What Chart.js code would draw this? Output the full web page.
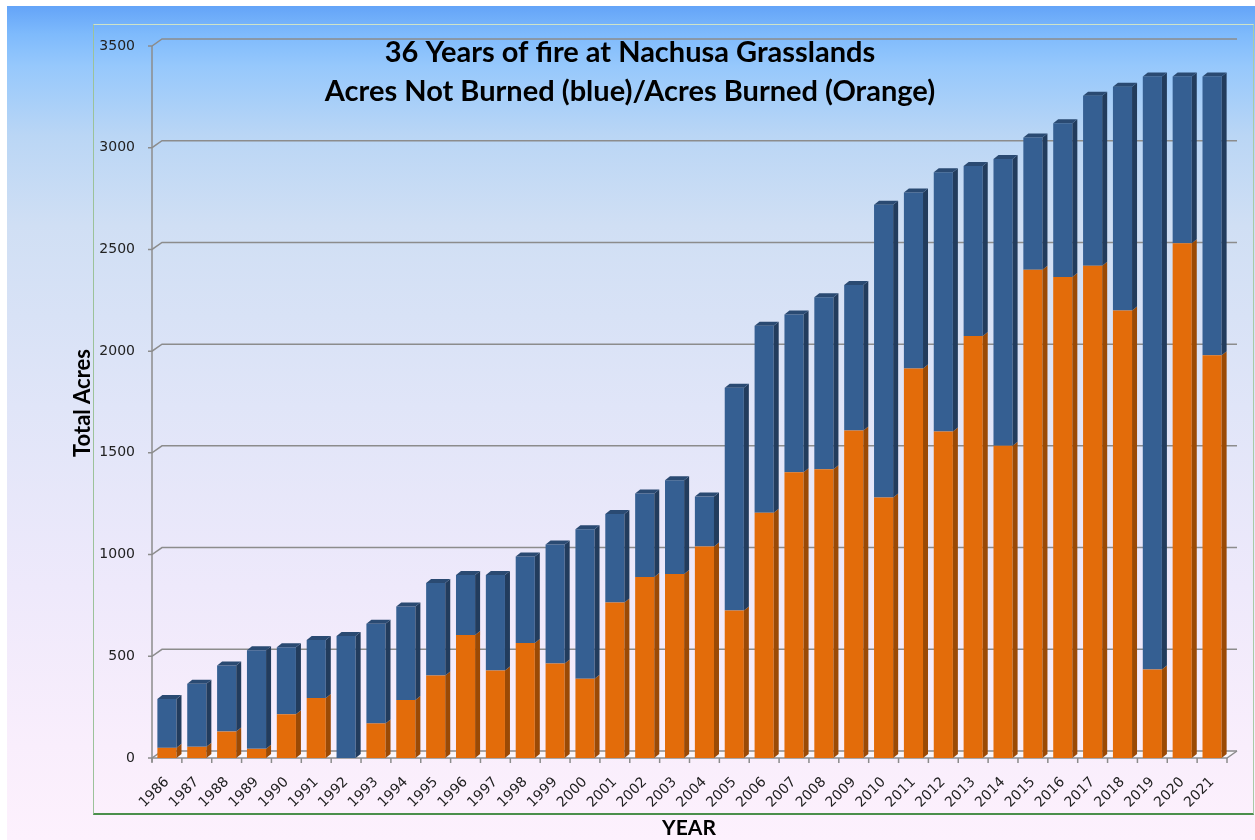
<!DOCTYPE html>
<html>
<head>
<meta charset="utf-8">
<script src="https://cdn.jsdelivr.net/npm/chart.js@4.4.1/dist/chart.umd.min.js"></script>
<style>
  html, body { margin: 0; padding: 0; background: #fff; }
  #wrap { position: relative; width: 1255px; height: 840px; overflow: hidden; }
  #bg {
    position: absolute; left: 7px; top: 6px; right: 0; bottom: 0;
    background: linear-gradient(to bottom, #64a4f8 0px, #7ebafc 28px, #96c8fc 60px, #bad6f5 130px,
      #d0dff4 220px, #e0e5f8 400px, #eee9fb 580px, #f9eefc 740px, #fdf1fd 834px);
  }
  #frame {
    position: absolute; left: 93px; top: 24px; width: 1159px; height: 788px;
    border: 1px solid #cfe3c8; border-left-color: #9cc29a; border-right-color: #a9cba6;
    border-bottom: 2px solid #4b8f4b;
  }
  canvas { position: absolute; left: 0; top: 0; }
</style>
</head>
<body>
<div id="wrap">
  <div id="bg"></div>
  <div id="frame"></div>
  <canvas id="fireChart" width="1255" height="840"></canvas>
</div>
<script>
// data
const years = ['1986','1987','1988','1989','1990','1991','1992','1993','1994','1995','1996','1997',
  '1998','1999','2000','2001','2002','2003','2004','2005','2006','2007','2008','2009',
  '2010','2011','2012','2013','2014','2015','2016','2017','2018','2019','2020','2021'];
const acresBurned = [50, 55, 130, 45, 215, 295, 0, 170, 285, 405, 605, 430,
  565, 465, 390, 765, 890, 905, 1040, 725, 1205, 1405, 1420, 1610,
  1280, 1915, 1605, 2075, 1535, 2400, 2365, 2420, 2200, 435, 2530, 1980];
const acresNotBurned = [240, 310, 325, 485, 330, 285, 600, 490, 460, 455, 295, 470,
  425, 585, 735, 435, 410, 460, 245, 1095, 920, 775, 845, 715,
  1440, 865, 1275, 835, 1410, 650, 755, 835, 1100, 2915, 820, 1370];
const yTicks = [0, 500, 1000, 1500, 2000, 2500, 3000, 3500];

const DX = 5, DY = 4;          // bar depth
const WX = 10, WY = 7;         // back wall offset

const wallPlugin = {
  id: 'wall',
  beforeDatasetsDraw(chart) {
    const { ctx, chartArea: a, scales: { x, y } } = chart;
    ctx.save();
    // floor
    ctx.fillStyle = 'rgba(250,246,252,0.9)';
    ctx.beginPath();
    ctx.moveTo(a.left, a.bottom);
    ctx.lineTo(a.left + WX, a.bottom - WY);
    ctx.lineTo(a.right + WX, a.bottom - WY);
    ctx.lineTo(a.right, a.bottom);
    ctx.closePath();
    ctx.fill();

    ctx.strokeStyle = '#8c8c8c';
    ctx.lineWidth = 1.5;
    yTicks.forEach(v => {
      const py = y.getPixelForValue(v);
      ctx.beginPath();
      ctx.moveTo(a.left - 4, py);
      ctx.lineTo(a.left, py);
      ctx.lineTo(a.left + WX, py - WY);
      ctx.lineTo(a.right + WX, py - WY);
      ctx.stroke();
    });
    // front floor edge + right edge
    ctx.beginPath();
    ctx.moveTo(a.left, a.bottom);
    ctx.lineTo(a.right, a.bottom);
    ctx.lineTo(a.right + WX, a.bottom - WY);
    ctx.stroke();
    // y axis line
    ctx.beginPath();
    ctx.moveTo(a.left, y.getPixelForValue(3500));
    ctx.lineTo(a.left, a.bottom + 4);
    ctx.stroke();
    // category ticks
    const step = (a.right - a.left) / years.length;
    for (let i = 0; i <= years.length; i++) {
      const px = a.left + i * step;
      ctx.beginPath();
      ctx.moveTo(px, a.bottom);
      ctx.lineTo(px, a.bottom + 5);
      ctx.stroke();
    }
    ctx.restore();
  },
  afterDatasetsDraw(chart) {
    const { ctx } = chart;
    const sides = ['#9b4a05', '#223c5d'];
    ctx.save();
    chart.data.datasets.forEach((ds, di) => {
      const meta = chart.getDatasetMeta(di);
      meta.data.forEach((bar) => {
        const p = bar.getProps(['x', 'y', 'base', 'width'], true);
        const xl = p.x - p.width / 2, xr = p.x + p.width / 2;
        const top = Math.min(p.y, p.base), bot = Math.max(p.y, p.base);
        if (bot - top < 0.5) return;
        ctx.fillStyle = sides[di];
        ctx.beginPath();
        ctx.moveTo(xr, top);
        ctx.lineTo(xr + DX, top - DY);
        ctx.lineTo(xr + DX, bot - DY);
        ctx.lineTo(xr, bot);
        ctx.closePath();
        ctx.fill();
        if (di === 1) {
          ctx.fillStyle = '#2a4a72';
          ctx.beginPath();
          ctx.moveTo(xl, top);
          ctx.lineTo(xl + DX, top - DY);
          ctx.lineTo(xr + DX, top - DY);
          ctx.lineTo(xr, top);
          ctx.closePath();
          ctx.fill();
        }
      });
    });
    ctx.restore();
  },
  afterDraw(chart) {
    const { ctx } = chart;
    ctx.save();
    ctx.fillStyle = '#000';
    ctx.textAlign = 'center';
    ctx.textBaseline = 'alphabetic';
    ctx.font = 'bold 29px Lato';
    ctx.fillText('36 Years of fire at Nachusa Grasslands', 630, 62);
    ctx.fillText('Acres Not Burned (blue)/Acres Burned (Orange)', 630, 101);
    ctx.font = 'bold 21px Lato';
    ctx.textBaseline = 'middle';
    ctx.fillText('YEAR', 689, 828);
    ctx.font = 'bold 22px Lato';
    ctx.translate(83, 403);
    ctx.rotate(-Math.PI / 2);
    ctx.fillText('Total Acres', 0, 0);
    ctx.restore();
  }
};

new Chart(document.getElementById('fireChart'), {
  type: 'bar',
  data: {
    labels: years,
    datasets: [
      {
        label: 'Acres Burned',
        data: acresBurned,
        backgroundColor: '#e36c0a',
        categoryPercentage: 1,
        barPercentage: 0.64
      },
      {
        label: 'Acres Not Burned',
        data: acresNotBurned,
        backgroundColor: '#355f92',
        categoryPercentage: 1,
        barPercentage: 0.64
      }
    ]
  },
  options: {
    responsive: false,
    animation: false,
    devicePixelRatio: 1,
    layout: { padding: { top: 46, right: 28, left: 0, bottom: 0 } },
    scales: {
      x: {
        stacked: true,
        grid: { display: false, drawTicks: false },
        border: { display: false },
        ticks: {
          color: '#222',
          font: { family: 'DejaVu Sans', size: 14 },
          maxRotation: 45,
          minRotation: 45,
          autoSkip: false,
          padding: 16
        },
        afterFit(scale) { scale.height = 82; }
      },
      y: {
        stacked: true,
        min: 0,
        max: 3500,
        grid: { display: false, drawTicks: false },
        border: { display: false },
        ticks: {
          stepSize: 500,
          color: '#222',
          font: { family: 'DejaVu Sans', size: 14 },
          padding: 17,
          callback: (v) => String(v)
        },
        afterFit(scale) { scale.width = 152; }
      }
    },
    plugins: {
      legend: { display: false },
      tooltip: { enabled: false }
    }
  },
  plugins: [wallPlugin]
});
</script>
</body>
</html>
